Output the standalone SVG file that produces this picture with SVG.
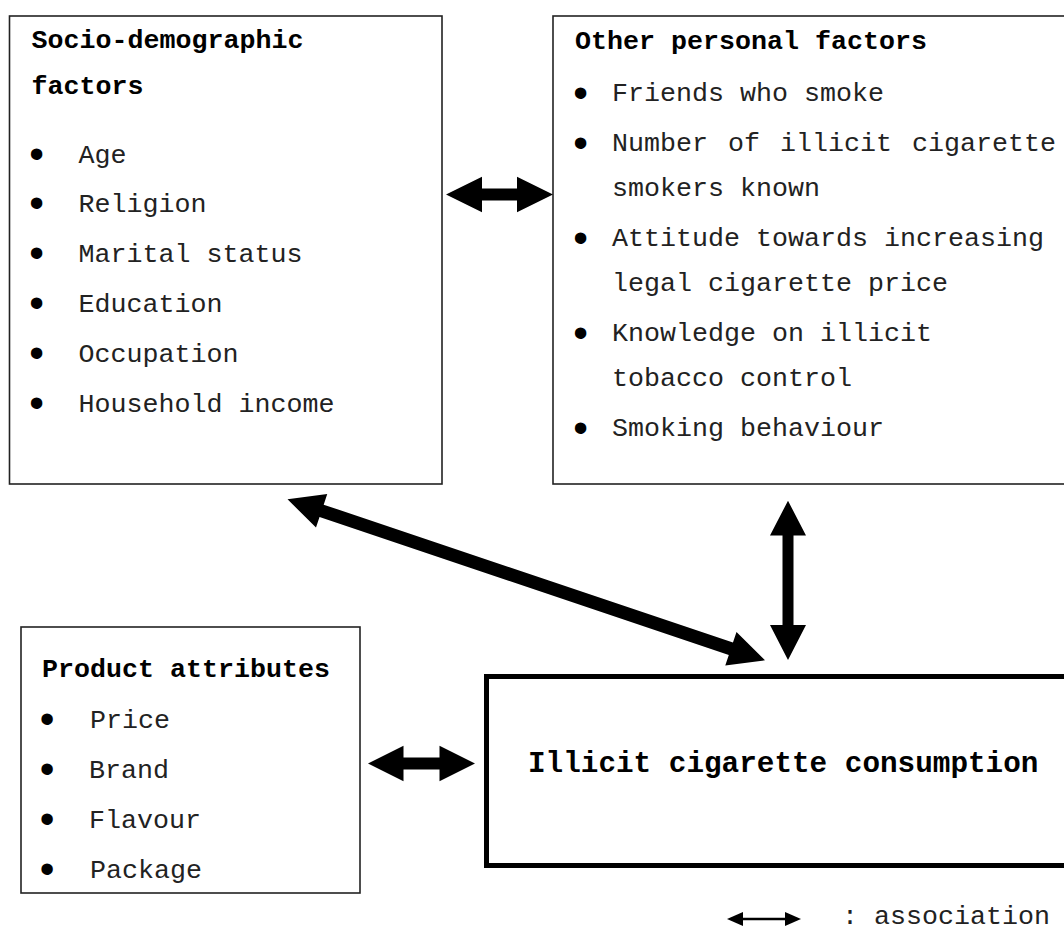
<svg xmlns="http://www.w3.org/2000/svg" width="1064" height="932" viewBox="0 0 1064 932">
<style>
.box{fill:#fff;stroke:#222;stroke-width:1.6}
.thick{fill:#fff;stroke:#000;stroke-width:5}
.t{font-family:"Liberation Mono","Courier New",monospace;font-size:26.67px;fill:#222}
.b{font-weight:bold;fill:#000}
.big{font-size:29.33px}
.bul{font-family:"Liberation Sans",Arial,sans-serif;font-size:42px;fill:#000;text-anchor:middle}
.arr{fill:#000;stroke:none}
</style>
<rect width="1064" height="932" fill="#fff"/>
<g id="socio">
<rect class="box" x="9.5" y="16" width="432.5" height="468"/>
<text class="t b" x="31.5" y="48">Socio-demographic</text>
<text class="t b" x="31.5" y="94">factors</text>
<text class="bul" x="36.5" y="168">•</text><text class="t" x="78.5" y="163">Age</text>
<text class="bul" x="36.5" y="217">•</text><text class="t" x="78.5" y="212">Religion</text>
<text class="bul" x="36.5" y="267">•</text><text class="t" x="78.5" y="262">Marital status</text>
<text class="bul" x="36.5" y="317">•</text><text class="t" x="78.5" y="312">Education</text>
<text class="bul" x="36.5" y="367">•</text><text class="t" x="78.5" y="362">Occupation</text>
<text class="bul" x="36.5" y="417">•</text><text class="t" x="78.5" y="412">Household income</text>
</g>
<g id="other">
<rect class="box" x="553" y="16" width="530" height="468"/>
<text class="t b" x="575" y="49">Other personal factors</text>
<text class="bul" x="580.5" y="107">•</text><text class="t" x="612" y="101">Friends who smoke</text>
<text class="bul" x="580.5" y="157">•</text><text class="t" x="612" y="151" word-spacing="4">Number of illicit cigarette</text>
<text class="t" x="612" y="196">smokers known</text>
<text class="bul" x="580.5" y="252">•</text><text class="t" x="612" y="246">Attitude towards increasing</text>
<text class="t" x="612" y="291">legal cigarette price</text>
<text class="bul" x="580.5" y="347">•</text><text class="t" x="612" y="341">Knowledge on illicit</text>
<text class="t" x="612" y="386">tobacco control</text>
<text class="bul" x="580.5" y="442">•</text><text class="t" x="612" y="436">Smoking behaviour</text>
</g>
<g id="product">
<rect class="box" x="21" y="627" width="339" height="266"/>
<text class="t b" x="42" y="677">Product attributes</text>
<text class="bul" x="47" y="733">•</text><text class="t" x="90" y="728">Price</text>
<text class="bul" x="47" y="783">•</text><text class="t" x="89" y="778">Brand</text>
<text class="bul" x="47" y="833">•</text><text class="t" x="89" y="828">Flavour</text>
<text class="bul" x="47" y="883">•</text><text class="t" x="90" y="878">Package</text>
</g>
<g id="consumption">
<rect class="thick" x="486.5" y="676.5" width="600" height="189"/>
<text class="t b big" x="528" y="772">Illicit cigarette consumption</text>
</g>
<g id="connectors">
<polygon class="arr" points="446,194.5 482,176.7 482,188.5 517,188.5 517,176.7 553,194.5 517,212.3 517,200.5 482,200.5 482,212.3"/>
<polygon class="arr" points="368,763.5 403.5,745.7 403.5,757.5 439.5,757.5 439.5,745.7 475,763.5 439.5,781.3 439.5,769.5 403.5,769.5 403.5,781.3"/>
<polygon class="arr" points="788,500.7 806,535.5 793.5,535.5 793.5,625 806,625 788,660 770,625 782.5,625 782.5,535.5 770,535.5"/>
<g transform="translate(287.5,499.3) rotate(18.63)">
<polygon class="arr" points="0,0 36,-17.6 36,-6.5 467.9,-6.5 467.9,-17.6 503.9,0 467.9,17.6 467.9,6.5 36,6.5 36,17.6"/>
</g>
</g>
<g id="legend">
<line x1="742" y1="919" x2="786" y2="919" stroke="#000" stroke-width="2.5"/>
<polygon class="arr" points="727,919 743,912 743,926"/>
<polygon class="arr" points="801,919 785,912 785,926"/>
<text class="t" x="842" y="924">: association</text>
</g>
</svg>
